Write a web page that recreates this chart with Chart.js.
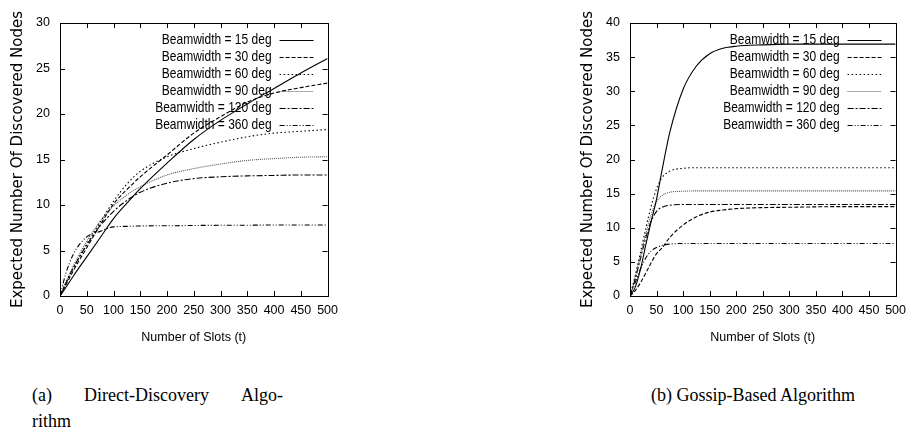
<!DOCTYPE html>
<html>
<head>
<meta charset="utf-8">
<script src="https://cdn.jsdelivr.net/npm/chart.js@4.4.1/dist/chart.umd.min.js"></script>
<style>
    body { margin: 0; background: #fff; }
    #wrap { position: relative; width: 913px; height: 443px; overflow: hidden; }
    canvas { position: absolute; top: 0; }
    #chartA { left: 0; }
    #chartB { left: 570px; }
    .cap { position: absolute; font-family: "Liberation Serif", "Times New Roman", serif; font-size: 18px; line-height: 22px; color: #000; white-space: nowrap; }
    #capA1 { left: 32px; top: 384px; width: 251px; display: flex; justify-content: space-between; }
    #capA2 { left: 32px; top: 410px; }
    #capB { left: 651px; top: 384px; }
</style>
</head>
<body>
<div id="wrap">
    <canvas id="chartA" width="345" height="350"></canvas>
    <canvas id="chartB" width="343" height="350"></canvas>
    <div class="cap" id="capA1"><span>(a)</span><span>Direct-Discovery</span><span>Algo-</span></div>
    <div class="cap" id="capA2">rithm</div>
    <div class="cap" id="capB">(b) Gossip-Based Algorithm</div>
</div>
<script>
// values
const beamLabels = ["Beamwidth = 15 deg", "Beamwidth = 30 deg", "Beamwidth = 60 deg",
    "Beamwidth = 90 deg", "Beamwidth = 120 deg", "Beamwidth = 360 deg"];

// (a) direct discovery
const slotsA    = [0, 10, 25, 50, 75, 100, 125, 150, 200, 250, 300, 350, 400, 450, 500];
const beam15A   = [0, 0.85, 2.2, 4.3, 6.4, 8.5, 10.2, 11.8, 14.6, 17.2, 19.3, 21.1, 22.8, 24.5, 26.1];
const beam30A   = [0, 1.1, 2.8, 5.3, 7.8, 10.1, 11.7, 13.1, 15.5, 17.9, 19.7, 21.3, 22.3, 22.9, 23.4];
const beam60A   = [0, 1.3, 3.1, 5.7, 8.1, 10.4, 12.3, 13.7, 15.3, 16.2, 16.9, 17.5, 17.9, 18.1, 18.3];
const beam90A   = [0, 1.4, 3.3, 6.0, 8.2, 9.9, 11.1, 12.0, 13.3, 14.0, 14.5, 14.9, 15.1, 15.25, 15.3];
const beam120A  = [0, 1.3, 3.1, 5.6, 7.7, 9.3, 10.5, 11.4, 12.4, 12.9, 13.1, 13.2, 13.25, 13.3, 13.3];
const beam360A  = [0, 2.3, 4.6, 6.5, 7.1, 7.6, 7.65, 7.7, 7.72, 7.75, 7.77, 7.78, 7.8, 7.8, 7.8];

// (b) gossip based
const slotsB    = [0, 10, 20, 30, 40, 50, 60, 75, 100, 125, 150, 175, 200, 250, 300, 400, 500];
const beam15B   = [0, 1.3, 4.0, 7.6, 11.0, 14.2, 18.3, 24.0, 30.3, 33.7, 35.5, 36.3, 36.6, 36.8, 36.9, 36.9, 36.9];
const beam30B   = [0, 0.8, 2.0, 3.4, 4.9, 6.2, 7.0, 8.6, 10.4, 11.6, 12.3, 12.6, 12.8, 12.95, 13.0, 13.1, 13.1];
const beam60B   = [0, 3.0, 6.5, 10.0, 13.2, 15.7, 17.3, 18.3, 18.7, 18.8, 18.8, 18.8, 18.8, 18.8, 18.8, 18.8, 18.8];
const beam90B   = [0, 2.8, 6.0, 9.2, 12.0, 13.8, 14.7, 15.2, 15.35, 15.4, 15.4, 15.4, 15.4, 15.4, 15.4, 15.4, 15.4];
const beam120B  = [0, 2.5, 5.6, 8.6, 11.0, 12.4, 13.0, 13.3, 13.4, 13.4, 13.4, 13.4, 13.4, 13.4, 13.4, 13.4, 13.4];
const beam360B  = [0, 2.0, 4.0, 5.6, 6.6, 7.1, 7.4, 7.6, 7.7, 7.7, 7.7, 7.7, 7.7, 7.7, 7.7, 7.7, 7.7];

const lineStyles = [
    { dash: [], color: "#000" },
    { dash: [4, 2], color: "#000" },
    { dash: [1.5, 2.5], color: "#000" },
    { dash: [1, 1], color: "#555" },
    { dash: [6, 2, 2, 2], color: "#000" },
    { dash: [5, 2, 1, 2, 1, 2], color: "#000" }
];

const sans = "'Liberation Sans', Arial, sans-serif";

function makeDatasets(slots, series) {
    return series.map((values, i) => ({
        label: beamLabels[i],
        data: slots.map((t, k) => ({ x: t, y: values[k] })),
        borderColor: lineStyles[i].color,
        borderDash: lineStyles[i].dash,
        borderWidth: 1.1,
        pointRadius: 0,
        fill: false,
        cubicInterpolationMode: "monotone"
    }));
}

// plot frame with gnuplot style inward ticks
const framePlugin = {
    id: "frame",
    afterDraw(chart) {
        const { ctx, chartArea: a, scales } = chart;
        const len = 5;
        ctx.save();
        ctx.strokeStyle = "#000";
        ctx.lineWidth = 1;
        ctx.setLineDash([]);
        ctx.strokeRect(Math.round(a.left) + 0.5, Math.round(a.top) + 0.5,
            Math.round(a.right - a.left), Math.round(a.bottom - a.top));
        ctx.beginPath();
        scales.x.ticks.forEach((t) => {
            const px = Math.round(scales.x.getPixelForValue(t.value)) + 0.5;
            ctx.moveTo(px, a.bottom); ctx.lineTo(px, a.bottom - len);
            ctx.moveTo(px, a.top); ctx.lineTo(px, a.top + len);
        });
        scales.y.ticks.forEach((t) => {
            const py = Math.round(scales.y.getPixelForValue(t.value)) + 0.5;
            ctx.moveTo(a.left, py); ctx.lineTo(a.left + len, py);
            ctx.moveTo(a.right, py); ctx.lineTo(a.right - len, py);
        });
        ctx.stroke();
        ctx.restore();
    }
};

// key in the top right corner: right aligned, condensed text, sample line after it
const keyPlugin = {
    id: "key",
    afterDatasetsDraw(chart) {
        const { ctx, chartArea: a } = chart;
        const squeeze = 0.8;
        chart.data.datasets.forEach((ds, i) => {
            const y = a.top + 16.5 + i * 17.1;
            ctx.save();
            ctx.font = "15px " + sans;
            ctx.fillStyle = "#000";
            ctx.textAlign = "right";
            ctx.textBaseline = "middle";
            ctx.translate(a.right - 56, y);
            ctx.scale(squeeze, 1);
            ctx.fillText(ds.label, 0, 0);
            ctx.restore();

            ctx.save();
            ctx.beginPath();
            ctx.strokeStyle = ds.borderColor;
            ctx.lineWidth = ds.borderWidth;
            ctx.setLineDash(ds.borderDash);
            ctx.moveTo(a.right - 48, Math.round(y) + 0.5);
            ctx.lineTo(a.right - 14, Math.round(y) + 0.5);
            ctx.stroke();
            ctx.restore();
        });
    }
};

function render(id, slots, series, yMax, padRight) {
    return new Chart(document.getElementById(id), {
        type: "line",
        data: { datasets: makeDatasets(slots, series) },
        options: {
            responsive: false,
            animation: false,
            devicePixelRatio: 1,
            layout: { padding: { top: 23, right: padRight, left: 0, bottom: 0 } },
            plugins: { legend: { display: false }, tooltip: { enabled: false } },
            scales: {
                x: {
                    type: "linear",
                    min: 0,
                    max: 500,
                    grid: { display: false, drawTicks: false },
                    border: { display: false },
                    ticks: { stepSize: 50, color: "#000", padding: 7, maxRotation: 0, font: { family: sans, size: 12.5 } },
                    title: {
                        display: true,
                        text: "Number of Slots (t)",
                        color: "#000",
                        font: { family: sans, size: 12.5 },
                        padding: { top: 0, bottom: 5 }
                    },
                    afterFit: (s) => { s.height = 54; }
                },
                y: {
                    min: 0,
                    max: yMax,
                    grid: { display: false, drawTicks: false },
                    border: { display: false },
                    ticks: { stepSize: 5, color: "#000", padding: 10, font: { family: sans, size: 12.5 } },
                    title: {
                        display: true,
                        text: "Expected Number Of Discovered Nodes",
                        color: "#000",
                        font: { family: "'DejaVu Sans', sans-serif", size: 15 },
                        padding: { top: 9, bottom: 0 }
                    },
                    afterFit: (s) => { s.width = 60; }
                }
            }
        },
        plugins: [framePlugin, keyPlugin]
    });
}

render("chartA", slotsA, [beam15A, beam30A, beam60A, beam90A, beam120A, beam360A], 30, 17);
render("chartB", slotsB, [beam15B, beam30B, beam60B, beam90B, beam120B, beam360B], 40, 14);
</script>
</body>
</html>
